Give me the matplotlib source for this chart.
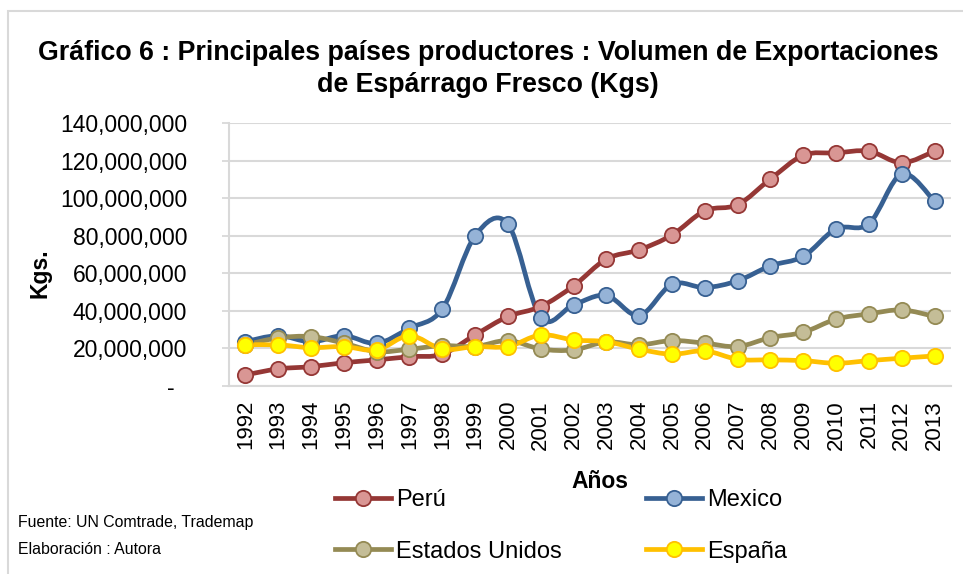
import matplotlib
matplotlib.use("Agg")
import matplotlib.pyplot as plt
from matplotlib.path import Path
from matplotlib.patches import PathPatch, Rectangle
from matplotlib.lines import Line2D
import numpy as np

plt.rcParams['font.family'] = ['Liberation Sans', 'DejaVu Sans']

years = list(range(1992, 2014))

# Kgs exported
peru = [5.9e6, 9.1e6, 10.3e6, 12.4e6, 13.9e6, 15.6e6, 16.9e6, 27.2e6, 37.0e6, 42.3e6, 53.3e6,
        67.6e6, 72.5e6, 80.4e6, 93.3e6, 96.5e6, 110.2e6, 122.8e6, 124.1e6, 125.0e6, 118.8e6, 125.0e6]
mexico = [23.6e6, 26.8e6, 23.5e6, 26.8e6, 22.7e6, 30.8e6, 41.0e6, 80.0e6, 86.2e6, 36.4e6, 43.2e6,
          48.2e6, 37.5e6, 54.2e6, 52.4e6, 56.0e6, 64.0e6, 69.0e6, 83.7e6, 86.4e6, 112.9e6, 98.3e6]
usa = [21.9e6, 25.6e6, 26.3e6, 22.8e6, 18.3e6, 19.6e6, 21.5e6, 21.0e6, 24.2e6, 19.7e6, 19.2e6,
       23.5e6, 21.9e6, 24.2e6, 22.8e6, 21.0e6, 25.8e6, 28.6e6, 35.6e6, 38.4e6, 40.5e6, 37.0e6]
espana = [21.9e6, 21.9e6, 20.4e6, 21.0e6, 19.2e6, 26.8e6, 19.6e6, 21.0e6, 21.0e6, 27.2e6, 24.5e6,
          23.6e6, 19.6e6, 16.9e6, 18.7e6, 14.2e6, 13.9e6, 13.5e6, 12.1e6, 13.5e6, 14.8e6, 16.0e6]

series = [
    ("Perú", peru, "#953735", "#D99694"),
    ("Mexico", mexico, "#376092", "#95B3D7"),
    ("Estados Unidos", usa, "#948A54", "#C4BD97"),
    ("España", espana, "#FFC000", "#FFFF00"),
]


def smooth_path(x, y):
    # bezier segments like Excel's smoothed line
    x = np.asarray(x, float)
    y = np.asarray(y, float)
    n = len(x)
    verts = [(x[0], y[0])]
    codes = [Path.MOVETO]
    for i in range(n - 1):
        i0 = max(i - 1, 0)
        i3 = min(i + 2, n - 1)
        c1 = (x[i] + (x[i + 1] - x[i0]) / 6, y[i] + (y[i + 1] - y[i0]) / 6)
        c2 = (x[i + 1] - (x[i3] - x[i]) / 6, y[i + 1] - (y[i3] - y[i]) / 6)
        verts += [c1, c2, (x[i + 1], y[i + 1])]
        codes += [Path.CURVE4] * 3
    return Path(verts, codes)


fig = plt.figure(figsize=(9.63, 5.74), dpi=100)
ax = fig.add_axes([229 / 963, 1 - 386 / 574, (951 - 229) / 963, (386 - 123) / 574])

for name, vals, line_c, face_c in series:
    ax.add_patch(PathPatch(smooth_path(years, vals), facecolor='none', edgecolor=line_c,
                           lw=3.4, capstyle='round', joinstyle='round'))
    ax.plot(years, vals, linestyle='none', marker='o', markersize=11,
            markerfacecolor=face_c, markeredgecolor=line_c, markeredgewidth=1.3)

ax.set_xlim(1991.5, 2013.5)
ax.set_ylim(0, 140e6)
ax.set_xticks(years)
ax.set_xticklabels([str(y) for y in years], rotation=90, fontsize=16)
yt = np.arange(0, 140e6 + 1, 20e6)
ax.set_yticks(yt)
ax.set_yticklabels(["-  "] + ["{:,.0f}".format(v) for v in yt[1:]], fontsize=16.5)
ax.tick_params(axis='x', length=0, pad=10)
ax.tick_params(axis='y', length=5, color='#D9D9D9', width=1.3, pad=25)
ax.grid(axis='y', color='#D9D9D9', lw=1.5)
ax.set_axisbelow(True)
for s in ['top', 'right']:
    ax.spines[s].set_visible(False)
for s in ['left', 'bottom']:
    ax.spines[s].set_color('#D9D9D9')
    ax.spines[s].set_linewidth(1.5)

fig.text(0.507, 1 - 60 / 574, "Gráfico 6 : Principales países productores : Volumen de Exportaciones",
         ha='center', va='baseline', fontsize=19.3, fontweight='bold')
fig.text(0.507, 1 - 92 / 574, "de Espárrago Fresco (Kgs)",
         ha='center', va='baseline', fontsize=19.3, fontweight='bold')
fig.text(40 / 963, 1 - 273 / 574, "Kgs.", rotation=90, ha='center', va='center',
         fontsize=16.5, fontweight='bold')
fig.text(600 / 963, 1 - 482 / 574, "Años", ha='center', va='center', fontsize=16.5,
         fontweight='bold')

handles = {}
for name, vals, line_c, face_c in series:
    handles[name] = Line2D([], [], color=line_c, lw=3.4, marker='o', markersize=11,
                           markerfacecolor=face_c, markeredgecolor=line_c,
                           markeredgewidth=1.3)
order = ["Perú", "Estados Unidos", "Mexico", "España"]
fig.legend([handles[k] for k in order], order, ncol=2, loc='center',
           bbox_to_anchor=(561 / 963, 1 - 526 / 574), frameon=False, fontsize=17,
           handlelength=2.37, handletextpad=0.2, columnspacing=3.6, labelspacing=1.25,
           borderpad=0)

fig.text(18 / 963, 1 - 522 / 574, "Fuente: UN Comtrade, Trademap", ha='left', va='center',
         fontsize=11.4)
fig.text(18 / 963, 1 - 549 / 574, "Elaboración : Autora", ha='left', va='center',
         fontsize=11.4)

fig.patches.append(Rectangle((8 / 963, -0.1), 1.2, 1 - 11 / 574 + 0.1,
                             transform=fig.transFigure, fill=False, ec='#D9D9D9', lw=1.5))

fig.savefig("out.png", dpi=100)
